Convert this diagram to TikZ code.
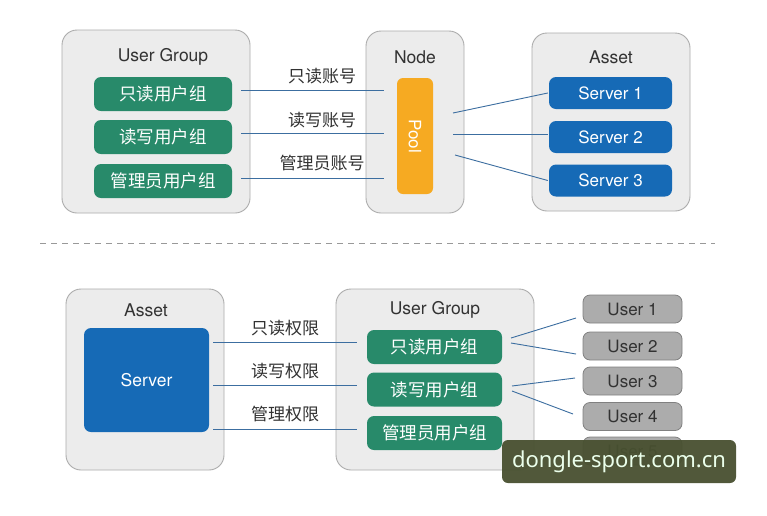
\documentclass[tikz,border=0pt]{standalone}
\usepackage{fontspec}
\setmainfont{TeX Gyre Heros}
\newfontfamily\cjk{Noto Sans CJK SC}
\newfontfamily\wmfont{Noto Sans}
\definecolor{cfill}{RGB}{236,236,236}
\definecolor{cdraw}{RGB}{172,172,172}
\definecolor{grn}{RGB}{40,138,106}
\definecolor{blu}{RGB}{22,106,182}
\definecolor{org}{RGB}{246,170,34}
\definecolor{ufill}{RGB}{172,172,172}
\definecolor{udraw}{RGB}{128,128,128}
\definecolor{lnk}{RGB}{60,110,160}
\definecolor{ttl}{RGB}{50,50,50}
\definecolor{wm}{RGB}{72,80,48}
\begin{document}
\begin{tikzpicture}[x=1pt,y=-1pt,
  cont/.style={draw=cdraw, fill=cfill, rounded corners=15pt, line width=0.9pt, inner sep=0pt},
  ttlt/.style={text=ttl, font=\fontsize{17.5}{17.5}\selectfont},
  gbox/.style={fill=grn, rounded corners=7pt, text=white, minimum width=138pt, minimum height=34pt, inner sep=0pt, font=\cjk\fontsize{17.5}{17.5}\selectfont},
  sbox/.style={fill=blu, rounded corners=7pt, text=white, minimum width=123pt, minimum height=32pt, inner sep=0pt, font=\fontsize{17}{17}\selectfont},
  ubox/.style={draw=udraw, fill=ufill, rounded corners=7pt, text=ttl, minimum width=99pt, minimum height=28pt, inner sep=0pt, line width=0.8pt, font=\fontsize{17}{17}\selectfont},
  lbl/.style={text=ttl, font=\cjk\fontsize{17}{17}\selectfont},
  link/.style={draw=lnk, line width=0.9pt}
]
\useasboundingbox[fill=white] (0,0) rectangle (767,515);

% ---------- top ----------
\node[cont, minimum width=188pt, minimum height=183pt] (ugA) at (156,121.5) {};
\node[ttlt] (ugAt) at (163,57) {User Group};
\node[gbox] (g1) at (163,94) {只读用户组};
\node[gbox] (g2) at (163,137) {读写用户组};
\node[gbox] (g3) at (163,181) {管理员用户组};

\node[cont, minimum width=98pt, minimum height=182pt] (nd) at (415,122) {};
\node[ttlt] (ndt) at (415,57) {Node};
\node[fill=org, rounded corners=6pt, minimum width=36pt, minimum height=116pt, inner sep=0pt] (pool) at (415,136) {};
\node[text=white, rotate=-90, font=\fontsize{17}{17}\selectfont] (poolt) at (pool.center) {Pool};

\node[cont, minimum width=158pt, minimum height=178pt] (asA) at (611,122) {};
\node[ttlt] (asAt) at (611,57) {Asset};
\node[sbox] (s1) at (610.5,93) {Server 1};
\node[sbox] (s2) at (610.5,137) {Server 2};
\node[sbox] (s3) at (610.5,180.5) {Server 3};

\coordinate (a1) at (241,90);  \coordinate (b1) at (384,90);
\coordinate (a2) at (241,133); \coordinate (b2) at (384,133);
\coordinate (a3) at (241,178); \coordinate (b3) at (384,178);
\draw[link] (a1) -- (b1);
\draw[link] (a2) -- (b2);
\draw[link] (a3) -- (b3);
\node[lbl] (l1) at (322,76) {只读账号};
\node[lbl] (l2) at (322,120) {读写账号};
\node[lbl] (l3) at (322,163) {管理员账号};

\coordinate (p1) at (453,113);
\coordinate (p2) at (453,134);
\coordinate (p3) at (455,155);
\draw[link] (p1) -- ([xshift=-1pt]s1.west);
\draw[link] (p2) -- ([xshift=-1pt]s2.west |- p2);
\draw[link] (p3) -- ([xshift=-1pt]s3.west);

% ---------- separator ----------
\coordinate (d1) at (40,243);
\coordinate (d2) at (715,243);
\draw[draw=gray!80, line width=0.9pt, dash pattern=on 6pt off 5pt] (d1) -- (d2);

% ---------- bottom ----------
\node[cont, minimum width=158pt, minimum height=181pt] (asB) at (145,379.5) {};
\node[ttlt] (asBt) at (146,310) {Asset};
\node[fill=blu, rounded corners=7pt, text=white, minimum width=125pt, minimum height=104pt, inner sep=0pt, font=\fontsize{17.5}{17.5}\selectfont] (srv) at (146.5,380) {Server};

\node[cont, minimum width=198pt, minimum height=181pt] (ugB) at (435,379.5) {};
\node[ttlt] (ugBt) at (435,310) {User Group};
\node[gbox, minimum width=135pt] (g4) at (434.5,347) {只读用户组};
\node[gbox, minimum width=135pt] (g5) at (434.5,389.5) {读写用户组};
\node[gbox, minimum width=135pt] (g6) at (434.5,433) {管理员用户组};

\coordinate (c1) at (213,342); \coordinate (e1) at (357,342);
\coordinate (c2) at (213,385); \coordinate (e2) at (357,385);
\coordinate (c3) at (213,429); \coordinate (e3) at (357,429);
\draw[link] (c1) -- (e1);
\draw[link] (c2) -- (e2);
\draw[link] (c3) -- (e3);
\node[lbl] (m1) at (285,328) {只读权限};
\node[lbl] (m2) at (285,371) {读写权限};
\node[lbl] (m3) at (285,414) {管理权限};

\node[ubox] (u1) at (632.5,309) {User 1};
\node[ubox] (u2) at (632.5,346) {User 2};
\node[ubox] (u3) at (632.5,381) {User 3};
\node[ubox] (u4) at (632.5,416.5) {User 4};
\node[ubox] (u5) at (632.5,451) {User 5};

\coordinate (q1) at (511,338);
\coordinate (q2) at (511,343);
\coordinate (q3) at (512,386);
\coordinate (q4) at (512,391);
\draw[link] (q1) -- (576,318);
\draw[link] (q2) -- (576,354);
\draw[link] (q3) -- (575,378);
\draw[link] (q4) -- (573,414);

% ---------- watermark ----------
\node[fill=wm, fill opacity=0.95, text opacity=1, text=green!8!white, rounded corners=6pt, minimum width=234pt, minimum height=43pt, inner sep=0pt, font=\wmfont\fontsize{22}{22}\selectfont] (wmk) at (619,461.5) {dongle-sport.com.cn};
\end{tikzpicture}
\end{document}
